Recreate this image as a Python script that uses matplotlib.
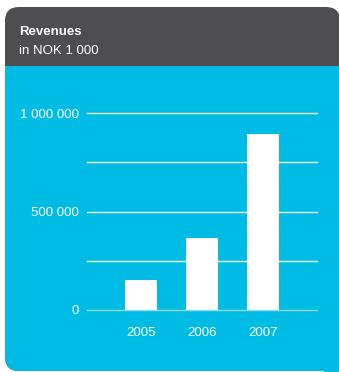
import matplotlib
matplotlib.use("Agg")
import matplotlib.pyplot as plt
from matplotlib.patches import FancyBboxPatch, Rectangle

plt.rcParams['font.family'] = ['Liberation Sans', 'DejaVu Sans']

# Revenue data (NOK 1 000)
years = ["2005", "2006", "2007"]
revenues = [152000, 366000, 893000]
y_ticks = [0, 250000, 500000, 750000, 1000000]
y_tick_labels = ["0", "", "500 000", "", "1 000 000"]

title = "Revenues"
subtitle = "in NOK 1 000"

HEADER = "#4e4e50"
PANEL = "#00bbe3"

W, H = 339, 372
fig = plt.figure(figsize=(W / 100, H / 100), dpi=100)
fig.patch.set_facecolor("white")

# Background canvas in pixel coordinates
bg = fig.add_axes([0, 0, 1, 1])
bg.set_xlim(0, W)
bg.set_ylim(H, 0)
bg.axis("off")

# Card: rounded top corners and bottom-left; right side runs off the canvas
R = 14
left, top, right, bottom = 5, 7, 340, 371
card = FancyBboxPatch((left + R, top + R), right - left - 2 * R,
                      bottom - top - 2 * R,
                      boxstyle=f"round,pad={R}", facecolor=HEADER,
                      edgecolor="none")
bg.add_patch(card)
body = Rectangle((0, 66), W + 5, H - 66, facecolor=PANEL, edgecolor="none")
bg.add_patch(body)
body.set_clip_path(card)
# square off the bottom-right corner
bg.add_patch(Rectangle((right - R - 2, bottom - R - 2), W, H,
                       facecolor=PANEL, edgecolor="none"))

bg.text(19, 35, title, color="white", fontsize=9.5, fontweight="bold",
        va="baseline", ha="left")
bg.text(19, 54, subtitle, color="white", fontsize=9.5,
        va="baseline", ha="left")

# Bar chart
ax = fig.add_axes([87 / W, (H - 310) / H, 230 / W, 197 / H])
ax.set_facecolor("none")
x = list(range(len(years)))
ax.bar(x, revenues, width=0.525, color="white", zorder=3)
ax.set_xlim(-0.885, 2.885)
ax.set_ylim(0, 1000000)
for v in y_ticks:
    col = "#8fdcf1" if v == 0 else "#eefafd"
    ax.axhline(v, color=col, lw=1.0, zorder=1 if v else 4, clip_on=False)
ax.set_yticks(y_ticks)
ax.set_yticklabels(y_tick_labels)
ax.set_xticks(x)
ax.set_xticklabels(years)
ax.tick_params(axis="y", length=0, pad=6, labelcolor="white", labelsize=9.5)
ax.tick_params(axis="x", length=0, pad=12.5, labelcolor="white", labelsize=9.5)
for s in ax.spines.values():
    s.set_visible(False)

fig.savefig("out.png", dpi=100)
